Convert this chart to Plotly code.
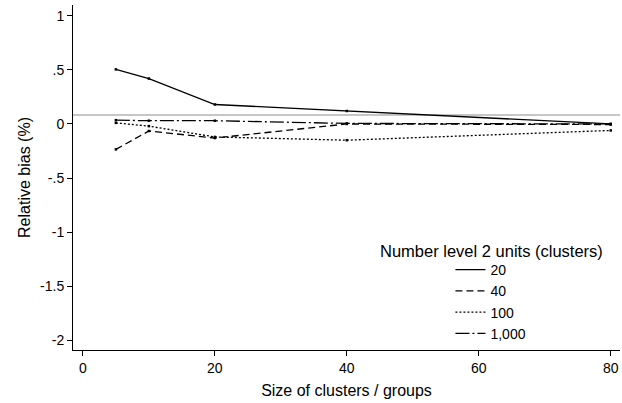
import plotly.graph_objects as go

cluster_sizes = [5, 10, 20, 40, 80]
series_names = ["20", "40", "100", "1,000"]
bias_20 = [0.505, 0.42, 0.18, 0.12, 0.0]
bias_40 = [-0.235, -0.065, -0.13, 0.0, -0.005]
bias_100 = [0.01, -0.02, -0.12, -0.15, -0.06]
bias_1000 = [0.035, 0.03, 0.03, 0.005, 0.0]
reference_value = 0.083
y_tick_vals = [1, 0.5, 0, -0.5, -1, -1.5, -2]
y_tick_text = ["1", ".5", "0", "-.5", "-1", "-1.5", "-2"]
x_tick_vals = [0, 20, 40, 60, 80]

series = [bias_20, bias_40, bias_100, bias_1000]
dashes = ["solid", "7px,4px", "2px,2px", "14px,3px,2px,3px"]

fig = go.Figure()
for name, vals, dash in zip(series_names, series, dashes):
    line = dict(color="black", width=1.3, dash=dash)
    fig.add_trace(go.Scatter(
        x=cluster_sizes, y=vals, name=name, mode="lines+markers",
        line=line, legendgroup=name, showlegend=False,
        marker=dict(symbol="square", size=2.5, color="black"),
    ))
    # legend entry without marker
    fig.add_trace(go.Scatter(
        x=[None], y=[None], name=name, mode="lines", line=line,
        legendgroup=name, showlegend=True, hoverinfo="skip",
    ))

fig.add_hline(y=reference_value, line=dict(color="#b3b3b3", width=1.6), layer="below")

fam = "Liberation Sans, Arial, sans-serif"
tick_font = dict(family=fam, size=14, color="black")
title_font = dict(family=fam, size=16, color="black")
legend_title_font = dict(family=fam, size=16.5, color="black")
fig.update_layout(
    width=622, height=403,
    margin=dict(l=73, r=2, t=5, b=53),
    paper_bgcolor="white", plot_bgcolor="white",
    font=tick_font,
    showlegend=True,
    legend=dict(x=0.69, y=0.278, xanchor="left", yanchor="top",
                bgcolor="rgba(0,0,0,0)", font=tick_font, itemwidth=30,
                tracegroupgap=0),
    xaxis=dict(range=[-1.5, 81.4], tickvals=x_tick_vals, showline=True,
               linecolor="black", linewidth=1, ticks="outside", ticklen=5,
               tickcolor="black", showgrid=False, zeroline=False,
               automargin=False, tickfont=tick_font,
               title=dict(text="Size of clusters / groups", standoff=10,
                          font=title_font)),
    yaxis=dict(range=[-2.09, 1.10], tickvals=y_tick_vals, ticktext=y_tick_text,
               showline=True, linecolor="black", linewidth=1, ticks="outside",
               ticklen=5, tickcolor="black", showgrid=False, zeroline=False,
               automargin=False, tickfont=tick_font,
               title=dict(text="Relative bias (%)", standoff=5,
                          font=title_font)),
    annotations=[dict(text="Number level 2 units (clusters)", x=0.557, y=0.287,
                      xref="paper", yref="paper", xanchor="left",
                      yanchor="middle", showarrow=False, font=legend_title_font)],
)

fig.write_html("out.html", config={"displayModeBar": False},
               post_script="document.body.style.margin='0';document.body.style.overflow='hidden';")
